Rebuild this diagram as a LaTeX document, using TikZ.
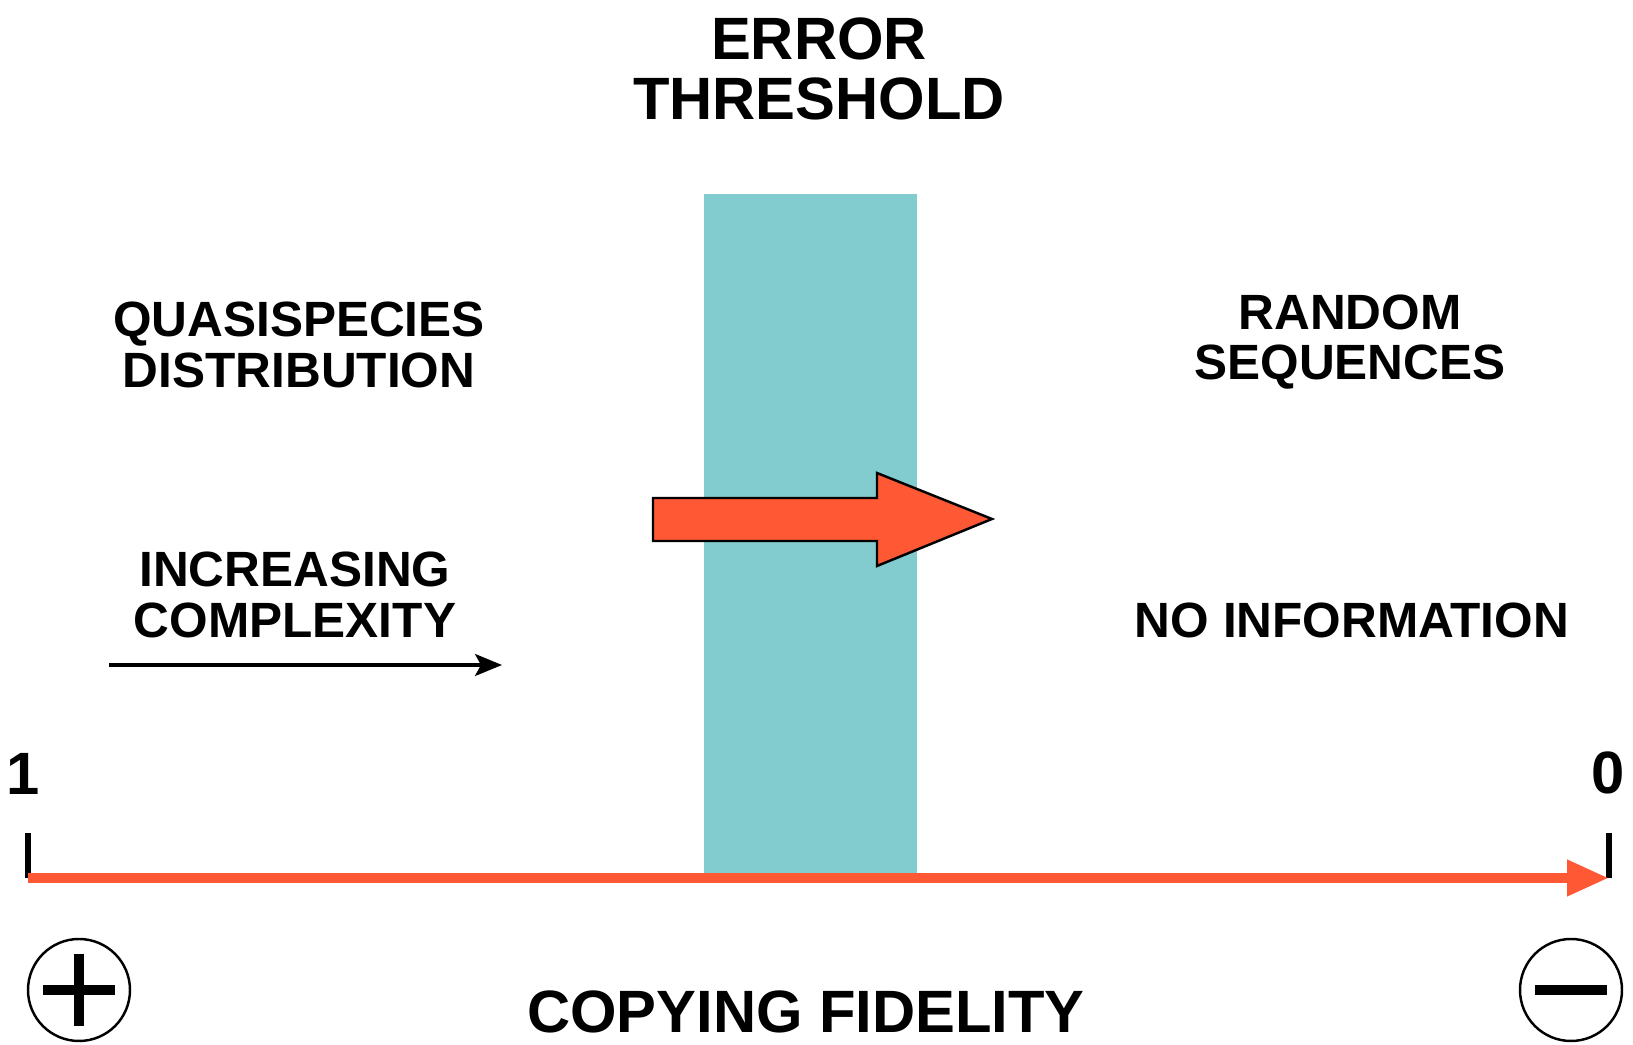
\documentclass[tikz,border=0pt]{standalone}
\usepackage{fontspec}
\setmainfont{Liberation Sans}
\usetikzlibrary{positioning,arrows.meta}

\definecolor{band}{RGB}{130,203,206}
\definecolor{fire}{RGB}{255,88,52}

\begin{document}
\begin{tikzpicture}[node distance=1cm,
    big/.style={font=\fontsize{17}{17.2}\selectfont\bfseries, align=center, inner sep=0pt},
    mid/.style={font=\fontsize{14.1}{14.3}\selectfont\bfseries, align=center, inner sep=0pt},
    axis/.style={draw=fire, line width=1mm, -{Triangle[length=4.2mm,width=3.4mm]}},
    tick/.style={line width=1.5pt},
    sign/.style={circle, draw, line width=0.7pt, minimum size=10.2mm, inner sep=0pt},
    bar/.style={line width=1mm}]

    \useasboundingbox (0,0) rectangle (16.33,10.45);

    \fill[band] (7.04,1.70) rectangle (9.17,8.51);

    \node[big] (thr) at (8.19,9.76) {ERROR\\THRESHOLD};
    \node[mid] (quasi) at (2.99,7.00) {QUASISPECIES\\DISTRIBUTION};
    \node[mid] (rand) at (13.50,7.03) {RANDOM\\SEQUENCES};
    \node[mid] (incr) at (2.95,4.50) {INCREASING\\COMPLEXITY};
    \node[mid] (noinf) at (13.52,4.25) {NO INFORMATION};
    \node[big] (fid) at (8.06,0.33) {COPYING FIDELITY};

    \coordinate (lo) at (0.28,1.67);
    \coordinate (hi) at (16.09,1.67);
    \node[big] (one) [above=0.83 of lo, xshift=-0.05cm] {1};
    \node[big] (zero) [above=0.83 of hi, xshift=-0.01cm] {0};

    \draw[tick] (lo) -- ++(0,0.45);
    \draw[tick] (hi) -- ++(0,0.45);
    \draw[axis] (lo) -- (hi);

    \coordinate (c0) at (1.09,3.80);
    \coordinate (c1) at (5.02,3.80);
    \draw[line width=0.9pt, -{Stealth[length=2.7mm,width=2.2mm,inset=0.6mm]}] (c0) -- (c1);

    \filldraw[fill=fire, line width=0.7pt, line join=miter]
        (6.53,5.04) -- (6.53,5.47) -- (8.77,5.47) -- (8.77,5.72)
        -- (9.92,5.26) -- (8.77,4.79) -- (8.77,5.04) -- cycle;

    \node[sign] (plus) at (0.79,0.55) {};
    \draw[bar] ([xshift=-3.6mm]plus.center) -- ([xshift=3.6mm]plus.center);
    \draw[bar] ([yshift=-3.6mm]plus.center) -- ([yshift=3.6mm]plus.center);

    \node[sign] (minus) at (15.71,0.55) {};
    \draw[bar] ([xshift=-3.6mm]minus.center) -- ([xshift=3.6mm]minus.center);

\end{tikzpicture}
\end{document}
